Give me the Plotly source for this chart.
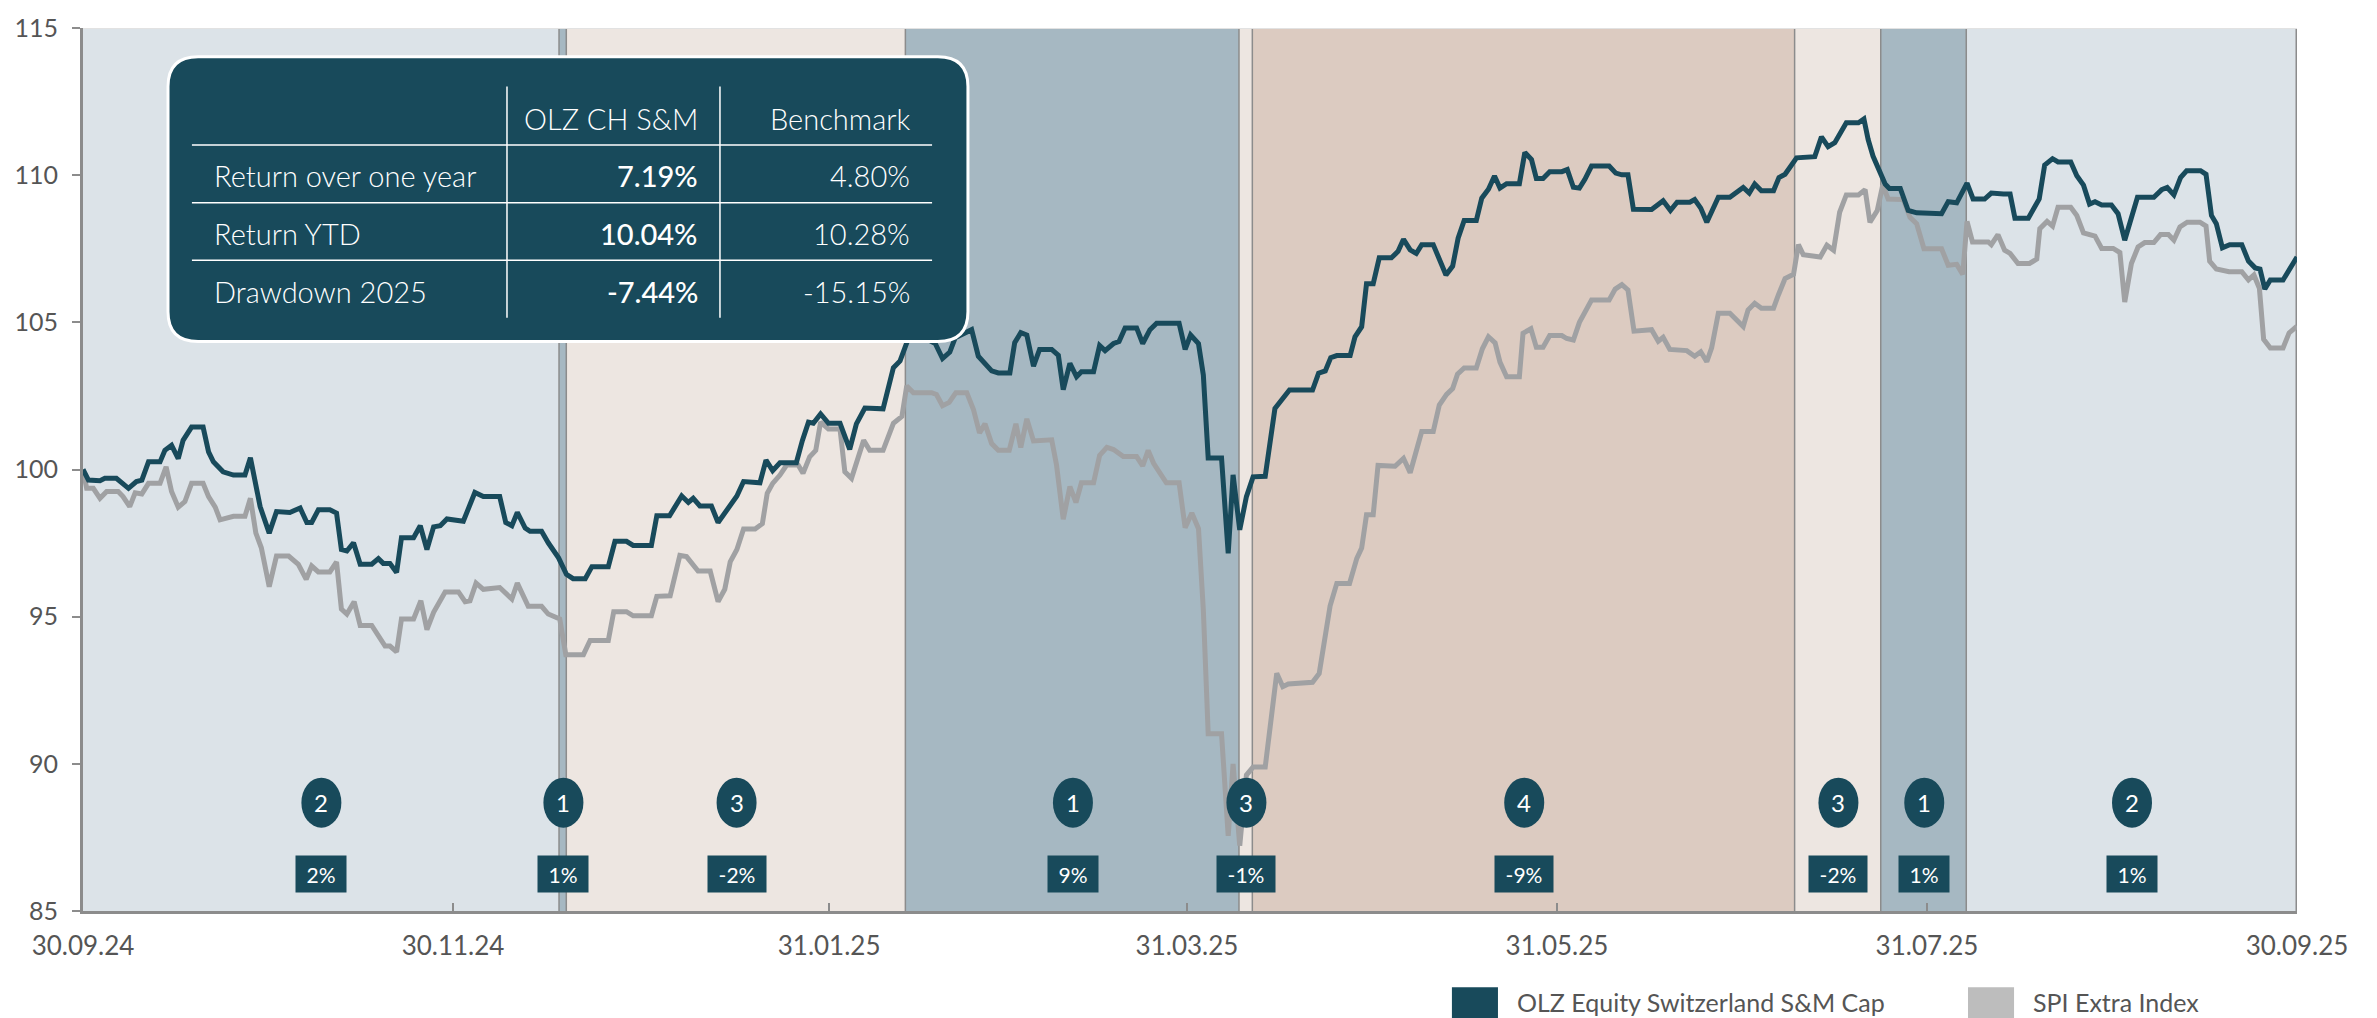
import pandas as pd
import plotly.graph_objects as go

START = pd.Timestamp("2024-09-30")

# (days after 30.09.24, index level)
olz_points = [
    (0, 100.0), (0.9, 99.64), (2.8, 99.62), (3.6, 99.7), (5.5, 99.7), (7.5, 99.36), (8.8, 99.59),
    (9.7, 99.64), (10.8, 100.26), (12.7, 100.26), (13.5, 100.65), (14.6, 100.82), (15.7, 100.37),
    (16.5, 100.99), (17.9, 101.44), (19.8, 101.44), (20.7, 100.6), (21.5, 100.26), (23.1, 99.92),
    (24.8, 99.81), (26.7, 99.81), (27.6, 100.4), (29.2, 98.74), (30.7, 97.84), (31.9, 98.57),
    (34.1, 98.54), (35.8, 98.69), (36.9, 98.2), (37.7, 98.2), (38.8, 98.63), (40.7, 98.63),
    (41.8, 98.52), (42.6, 97.28), (43.5, 97.23), (44.6, 97.51), (45.7, 96.78), (47.6, 96.78),
    (48.7, 96.97), (49.5, 96.81), (50.6, 96.81), (51.7, 96.5), (52.5, 97.68), (54.5, 97.68),
    (55.6, 98.09), (56.7, 97.28), (57.8, 98.05), (58.9, 98.09), (60.0, 98.32), (62.7, 98.24),
    (64.6, 99.22), (66.0, 99.08), (68.7, 99.08), (69.7, 98.2), (70.7, 98.09), (71.6, 98.54),
    (72.9, 98.01), (73.7, 97.9), (75.6, 97.9), (76.7, 97.51), (78.4, 97.0), (79.7, 96.44),
    (80.8, 96.29), (82.8, 96.29), (83.9, 96.7), (86.6, 96.7), (87.7, 97.56), (89.6, 97.56),
    (90.7, 97.42), (93.7, 97.42), (94.6, 98.43), (96.7, 98.43), (97.6, 98.74), (98.7, 99.1),
    (99.8, 98.88), (100.6, 99.02), (101.7, 98.76), (103.6, 98.76), (104.7, 98.2), (105.8, 98.52),
    (106.9, 98.91), (107.8, 99.1), (108.9, 99.59), (111.6, 99.55), (112.6, 100.32), (113.7, 99.96),
    (114.9, 100.23), (117.6, 100.23), (118.6, 100.99), (119.6, 101.61), (120.4, 101.57),
    (121.6, 101.89), (122.9, 101.57), (124.8, 101.57), (126.4, 100.68), (127.5, 101.55),
    (128.9, 102.09), (131.9, 102.06), (133.6, 103.46), (134.7, 103.69), (135.8, 104.3),
    (136.9, 104.9), (138.5, 104.5), (140.5, 104.28), (141.7, 103.77), (142.9, 103.99),
    (143.8, 104.48), (146.5, 104.75), (147.6, 103.85), (148.4, 103.68), (149.8, 103.35),
    (150.9, 103.28), (152.8, 103.28), (153.6, 104.31), (154.6, 104.65), (155.6, 104.57),
    (156.7, 103.51), (157.7, 104.08), (159.7, 104.08), (160.8, 103.88), (161.6, 102.71),
    (162.7, 103.61), (163.8, 103.15), (164.6, 103.32), (166.6, 103.32), (167.6, 104.21),
    (168.5, 104.04), (169.9, 104.28), (170.8, 104.35), (171.8, 104.81), (173.7, 104.81),
    (174.7, 104.28), (175.9, 104.75), (177.0, 104.97), (180.7, 104.97), (181.7, 104.08),
    (182.6, 104.57), (183.9, 104.28), (184.7, 103.21), (185.5, 100.39), (187.7, 100.39),
    (188.8, 97.15), (189.6, 99.82), (190.7, 97.95), (191.8, 99.08), (192.9, 99.75), (194.9, 99.77),
    (196.5, 102.07), (197.6, 102.37), (198.9, 102.7), (202.7, 102.7), (203.7, 103.27),
    (204.8, 103.35), (205.7, 103.8), (206.7, 103.87), (208.9, 103.87), (209.7, 104.51),
    (210.8, 104.85), (211.6, 106.31), (212.7, 106.31), (213.7, 107.19), (215.7, 107.19),
    (216.8, 107.41), (217.7, 107.82), (218.8, 107.46), (219.8, 107.34), (220.7, 107.64),
    (222.6, 107.64), (224.7, 106.61), (225.8, 106.91), (226.7, 107.86), (227.7, 108.46),
    (229.7, 108.46), (230.6, 109.22), (231.7, 109.52), (232.7, 109.97), (233.6, 109.56),
    (234.7, 109.71), (236.8, 109.71), (237.7, 110.77), (238.8, 110.53), (239.6, 109.89),
    (240.7, 109.89), (241.8, 110.12), (243.8, 110.12), (244.7, 110.19), (245.7, 109.59),
    (246.7, 109.56), (247.6, 109.86), (248.7, 110.31), (251.6, 110.31), (252.7, 110.07),
    (253.7, 110.01), (254.7, 110.01), (255.6, 108.84), (258.6, 108.83), (260.5, 109.13),
    (261.7, 108.8), (262.8, 109.08), (264.9, 109.08), (265.7, 109.17), (266.7, 108.88),
    (267.7, 108.4), (269.6, 109.25), (271.5, 109.25), (273.7, 109.58), (274.7, 109.39),
    (275.6, 109.7), (276.7, 109.47), (278.7, 109.47), (279.6, 109.92), (280.6, 110.03),
    (282.5, 110.59), (285.5, 110.63), (286.6, 111.3), (287.7, 110.97), (288.8, 111.1),
    (290.7, 111.78), (292.7, 111.78), (293.6, 111.91), (294.3, 111.21), (295.1, 110.65),
    (297.1, 109.7), (297.8, 109.55), (299.6, 109.55), (300.9, 108.8), (302.3, 108.72),
    (304.4, 108.69), (306.4, 108.69), (307.5, 109.1), (308.9, 109.06), (310.6, 109.73),
    (311.6, 109.19), (313.5, 109.19), (314.6, 109.39), (316.6, 109.36), (317.7, 109.36),
    (318.5, 108.54), (320.7, 108.54), (322.5, 109.19), (323.4, 110.34), (324.7, 110.56),
    (325.6, 110.45), (327.7, 110.45), (328.7, 109.98), (329.8, 109.66), (330.8, 109.02),
    (331.7, 109.1), (332.8, 108.99), (334.4, 108.99), (335.5, 108.69), (336.6, 107.79),
    (337.7, 108.63), (338.7, 109.25), (341.4, 109.25), (342.7, 109.51), (343.6, 109.58),
    (344.7, 109.33), (345.8, 109.92), (346.8, 110.15), (349.1, 110.15), (350.0, 110.03),
    (350.9, 108.63), (351.7, 108.35), (352.7, 107.53), (353.9, 107.64), (355.9, 107.64),
    (357.0, 107.08), (358.1, 106.85), (358.9, 106.81), (359.7, 106.13), (360.6, 106.44),
    (362.7, 106.44), (363.8, 106.83), (365.0, 107.22),
]

spi_points = [
    (0, 100.0), (0.6, 99.36), (1.7, 99.36), (2.8, 99.02), (3.9, 99.25), (5.8, 99.25), (6.6, 99.08),
    (7.7, 98.74), (8.6, 99.21), (9.7, 99.17), (10.8, 99.53), (12.7, 99.53), (13.7, 100.09),
    (14.6, 99.25), (15.7, 98.72), (16.8, 98.91), (17.9, 99.53), (19.8, 99.53), (20.7, 99.08),
    (21.8, 98.72), (22.6, 98.29), (24.8, 98.41), (26.7, 98.41), (27.6, 99.02), (28.5, 97.84),
    (29.4, 97.34), (30.7, 96.02), (31.9, 97.06), (33.9, 97.06), (35.5, 96.78), (36.8, 96.27),
    (37.7, 96.72), (38.8, 96.52), (40.7, 96.52), (41.8, 96.86), (42.6, 95.26), (43.5, 95.09),
    (44.7, 95.51), (45.7, 94.7), (47.6, 94.7), (49.8, 94.0), (50.6, 94.0), (51.7, 93.8),
    (52.5, 94.92), (54.5, 94.92), (55.7, 95.54), (56.7, 94.56), (57.8, 95.15), (59.7, 95.84),
    (61.9, 95.84), (63.0, 95.51), (63.8, 95.54), (64.8, 96.14), (66.0, 95.93), (68.7, 95.99),
    (70.7, 95.6), (71.6, 96.14), (73.4, 95.35), (75.6, 95.35), (76.7, 95.09), (78.6, 94.92),
    (79.6, 93.71), (82.5, 93.71), (83.6, 94.19), (86.6, 94.19), (87.5, 95.17), (89.6, 95.17),
    (90.7, 95.03), (93.7, 95.03), (94.6, 95.69), (96.8, 95.71), (98.4, 97.08), (99.5, 97.04),
    (101.4, 96.55), (103.4, 96.55), (104.7, 95.51), (105.8, 95.93), (106.7, 96.86), (107.8, 97.28),
    (108.9, 97.98), (110.8, 97.98), (112.0, 98.16), (112.8, 99.19), (113.7, 99.53), (114.9, 99.81),
    (116.0, 100.15), (117.9, 100.15), (118.7, 99.87), (119.8, 100.43), (120.8, 100.65),
    (121.6, 101.61), (122.9, 101.38), (124.8, 101.38), (125.6, 99.92), (126.7, 99.7),
    (128.7, 100.99), (129.7, 100.65), (131.9, 100.65), (133.6, 101.57), (135.0, 101.8),
    (135.8, 102.84), (136.9, 102.61), (139.9, 102.61), (140.7, 102.55), (141.7, 102.17),
    (142.8, 102.28), (143.9, 102.61), (145.7, 102.61), (146.8, 102.04), (147.8, 101.24),
    (148.7, 101.55), (149.8, 100.88), (150.9, 100.65), (152.7, 100.65), (153.8, 101.55),
    (154.6, 100.75), (155.6, 101.72), (156.7, 100.97), (159.7, 101.01), (160.5, 100.15),
    (161.6, 98.31), (162.7, 99.42), (163.7, 98.88), (164.6, 99.55), (166.6, 99.55),
    (167.6, 100.48), (168.8, 100.75), (169.9, 100.68), (171.5, 100.44), (173.7, 100.44),
    (174.7, 100.12), (175.6, 100.65), (176.5, 100.21), (178.6, 99.55), (180.7, 99.55),
    (181.7, 98.02), (182.8, 98.52), (183.9, 97.99), (184.7, 95.22), (185.5, 91.02),
    (187.7, 91.02), (188.8, 87.55), (189.6, 90.0), (190.7, 87.22), (191.8, 89.62), (192.9, 89.89),
    (194.9, 89.89), (196.8, 93.08), (197.8, 92.62), (198.7, 92.71), (202.7, 92.77),
    (203.8, 93.07), (205.6, 95.37), (206.7, 96.13), (208.8, 96.13), (210.0, 96.98),
    (210.8, 97.33), (211.6, 98.46), (212.7, 98.46), (213.5, 100.14), (216.3, 100.11),
    (217.7, 100.38), (218.8, 99.89), (219.9, 100.79), (220.7, 101.29), (222.6, 101.29),
    (223.6, 102.19), (224.8, 102.55), (225.8, 102.75), (226.6, 103.24), (227.7, 103.45),
    (229.7, 103.45), (230.7, 104.1), (231.7, 104.51), (232.8, 104.3), (233.6, 103.65),
    (234.7, 103.15), (236.8, 103.15), (237.4, 104.63), (238.7, 104.78), (239.6, 104.15),
    (240.7, 104.15), (241.8, 104.55), (243.8, 104.55), (244.6, 104.45), (245.7, 104.4),
    (246.7, 105.0), (248.7, 105.76), (251.6, 105.76), (252.6, 106.13), (253.7, 106.28),
    (254.7, 106.1), (255.7, 104.7), (258.6, 104.75), (259.7, 104.36), (260.5, 104.49),
    (261.6, 104.08), (264.4, 104.04), (265.7, 103.85), (266.7, 104.0), (267.7, 103.66),
    (268.5, 104.13), (269.6, 105.31), (271.5, 105.31), (273.7, 104.86), (274.5, 105.42),
    (275.6, 105.65), (276.7, 105.48), (278.7, 105.48), (279.5, 105.93), (280.6, 106.49),
    (282.0, 106.63), (282.8, 107.64), (283.6, 107.3), (286.4, 107.22), (287.5, 107.62),
    (288.6, 107.45), (289.6, 108.74), (290.7, 109.33), (292.7, 109.33), (293.8, 109.51),
    (294.6, 108.4), (295.8, 108.8), (296.7, 109.66), (297.6, 109.19), (300.1, 109.17),
    (301.2, 108.57), (302.3, 108.35), (303.5, 107.5), (306.4, 107.5), (307.5, 106.94),
    (308.9, 106.97), (309.9, 106.63), (310.6, 108.43), (311.5, 107.73), (314.1, 107.73),
    (314.6, 107.64), (315.7, 107.98), (316.8, 107.45), (317.7, 107.34), (319.0, 107.0),
    (320.9, 107.0), (322.1, 107.15), (322.6, 108.18), (323.8, 108.43), (324.7, 108.27),
    (325.6, 108.91), (327.7, 108.91), (328.7, 108.63), (329.8, 108.04), (330.8, 107.96),
    (331.7, 107.93), (332.8, 107.51), (334.7, 107.51), (335.8, 107.37), (336.6, 105.69),
    (337.7, 107.0), (338.8, 107.56), (339.9, 107.71), (341.4, 107.71), (342.5, 107.98),
    (343.8, 107.98), (344.7, 107.79), (345.7, 108.24), (346.9, 108.4), (349.0, 108.4),
    (350.0, 108.27), (350.6, 107.08), (351.7, 106.81), (352.8, 106.78), (353.8, 106.72),
    (355.9, 106.72), (357.0, 106.44), (357.9, 106.61), (358.8, 106.16), (359.5, 104.42),
    (360.6, 104.13), (362.7, 104.13), (363.7, 104.64), (365.0, 104.87),
]

# market phases: boundaries (days after 30.09.24), phase id and relative return
phase_bounds = [0, 78.6, 79.8, 135.7, 190.7, 192.9, 282.3, 296.5, 310.6, 365]
phase_ids = [2, 1, 3, 1, 3, 4, 3, 1, 2]
phase_returns = ["2%", "1%", "-2%", "9%", "-1%", "-9%", "-2%", "1%", "1%"]
phase_colors = {1: "#a6b8c2", 2: "#dce3e8", 3: "#ede6e1", 4: "#dccbc1"}

x_tick_dates = ["2024-09-30", "2024-11-30", "2025-01-31", "2025-03-31",
                "2025-05-31", "2025-07-31", "2025-09-30"]
x_tick_labels = ["30.09.24", "30.11.24", "31.01.25", "31.03.25", "31.05.25", "31.07.25", "30.09.25"]
y_ticks = [85, 90, 95, 100, 105, 110, 115]

table_columns = ["OLZ CH S&M", "Benchmark"]
table_rows = ["Return over one year", "Return YTD", "Drawdown 2025"]
table_olz = ["7.19%", "10.04%", "-7.44%"]
table_benchmark = ["4.80%", "10.28%", "-15.15%"]

series_names = ["OLZ Equity Switzerland S&M Cap", "SPI Extra Index"]

DARK = "#184a5b"
GREY = "#a0a1a3"
AXIS = "#8c8c8c"
TEXT = "#555555"
FONT = "Lato, 'Open Sans', sans-serif"


def to_date(day):
    return START + pd.to_timedelta(day, unit="D")


olz_days, olz_values = zip(*olz_points)
spi_days, spi_values = zip(*spi_points)

fig = go.Figure()
fig.add_trace(go.Scatter(x=[to_date(d) for d in spi_days], y=spi_values, mode="lines",
                         name=series_names[1], line=dict(color=GREY, width=5), showlegend=False))
fig.add_trace(go.Scatter(x=[to_date(d) for d in olz_days], y=olz_values, mode="lines",
                         name=series_names[0], line=dict(color=DARK, width=5), showlegend=False))

# phase background bands
for i, pid in enumerate(phase_ids):
    x0, x1 = to_date(phase_bounds[i]), to_date(phase_bounds[i + 1])
    fig.add_shape(type="rect", x0=x0, x1=x1, y0=85, y1=115, fillcolor=phase_colors[pid],
                  line_width=0, layer="below")
    fig.add_shape(type="line", x0=x1, x1=x1, y0=85, y1=115, line=dict(color=AXIS, width=3),
                  layer="below")
    if i < len(phase_ids) - 1:
        xg = to_date(phase_bounds[i + 1] + 0.55)
        fig.add_shape(type="line", x0=xg, x1=xg, y0=85, y1=115, line=dict(color="white", width=3),
                      layer="below")

    mid = to_date((phase_bounds[i] + phase_bounds[i + 1]) / 2)
    fig.add_shape(type="circle", xref="x", yref="y", xsizemode="pixel", ysizemode="pixel",
                  xanchor=mid, yanchor=88.68, x0=-20, x1=20, y0=-25, y1=25,
                  fillcolor=DARK, line_width=0, layer="above")
    fig.add_annotation(x=mid, y=88.68, text=str(pid), showarrow=False,
                       font=dict(family=FONT, size=24, color="white"))
    label = phase_returns[i]
    fig.add_annotation(x=mid, y=86.25, text=label, showarrow=False, bgcolor=DARK,
                       width=8 * len(label) + 24, height=26, borderpad=5,
                       font=dict(family=FONT, size=21, color="white"))

fig.add_shape(type="line", x0=to_date(0), x1=to_date(365), y0=115, y1=115,
              line=dict(color="#e2e2e2", width=2), layer="below")

# summary table box
bx0, bx1, by0, by1 = 0.0384, 0.3997, 0.6449, 0.9674
rx, ry = 0.0136, 0.0337
box_path = (f"M {bx0 + rx},{by0} L {bx1 - rx},{by0} Q {bx1},{by0} {bx1},{by0 + ry} "
            f"L {bx1},{by1 - ry} Q {bx1},{by1} {bx1 - rx},{by1} L {bx0 + rx},{by1} "
            f"Q {bx0},{by1} {bx0},{by1 - ry} L {bx0},{by0 + ry} Q {bx0},{by0} {bx0 + rx},{by0} Z")
fig.add_shape(type="path", path=box_path, xref="paper", yref="paper", fillcolor=DARK,
              line=dict(color="white", width=3), layer="above")
for yl in [0.8674, 0.8022, 0.7371]:
    fig.add_shape(type="line", xref="paper", yref="paper", x0=0.0492, x1=0.3835, y0=yl, y1=yl,
                  line=dict(color="white", width=1.5), layer="above")
for xl in [0.1915, 0.2877]:
    fig.add_shape(type="line", xref="paper", yref="paper", x0=xl, x1=xl, y0=0.6719, y1=0.9337,
                  line=dict(color="white", width=1.5), layer="above")

row_y = [0.8326, 0.7674, 0.7011]
col_x = [0.2787, 0.3744]
cell = dict(xref="paper", yref="paper", yanchor="middle", showarrow=False)
for j, name in enumerate(table_columns):
    fig.add_annotation(x=col_x[j], y=0.8978, xanchor="right", text=name, **cell,
                       font=dict(family=FONT, size=29, color="white", weight=300))
for k, label in enumerate(table_rows):
    fig.add_annotation(x=0.0583, y=row_y[k], xanchor="left", text=label, **cell,
                       font=dict(family=FONT, size=29, color="white", weight=300))
    fig.add_annotation(x=col_x[0], y=row_y[k], xanchor="right", text=table_olz[k], **cell,
                       font=dict(family=FONT, size=29, color="white", weight=500))
    fig.add_annotation(x=col_x[1], y=row_y[k], xanchor="right", text=table_benchmark[k], **cell,
                       font=dict(family=FONT, size=29, color="white", weight=300))

# legend at the bottom right
legend_colors = [DARK, "#bdbdbd"]
legend_x = [0.6183, 0.8514]
for name, color, lx in zip(series_names, legend_colors, legend_x):
    fig.add_shape(type="rect", xref="paper", yref="paper", x0=lx, x1=lx + 0.0208,
                  y0=-0.1215, y1=-0.0864, fillcolor=color, line_width=0)
    fig.add_annotation(xref="paper", yref="paper", x=lx + 0.0285, y=-0.1033, xanchor="left",
                       yanchor="middle", text=name, showarrow=False,
                       font=dict(family=FONT, size=25, color=TEXT))

fig.update_layout(
    width=2377, height=1018,
    margin=dict(l=83, r=80, t=21, b=107),
    paper_bgcolor="white", plot_bgcolor="white",
    font=dict(family=FONT, size=26, color=TEXT),
    showlegend=False,
)
fig.update_xaxes(
    type="date", range=[to_date(0), to_date(365)],
    tickvals=x_tick_dates, ticktext=x_tick_labels,
    ticks="inside", ticklen=8, tickwidth=2, tickcolor=AXIS,
    showline=True, linecolor=AXIS, linewidth=3, showgrid=False, zeroline=False,
    ticklabelstandoff=10, tickfont=dict(size=26, color=TEXT),
)
fig.update_yaxes(
    range=[85, 115], tickvals=y_ticks,
    ticks="outside", ticklen=8, tickwidth=2, tickcolor=AXIS,
    showline=True, linecolor=AXIS, linewidth=3, showgrid=False, zeroline=False,
    ticklabelstandoff=9, tickfont=dict(size=25, color=TEXT),
)

fig.write_html("out.html", config={"displayModeBar": False},
               post_script="document.body.style.margin = '0px';")
